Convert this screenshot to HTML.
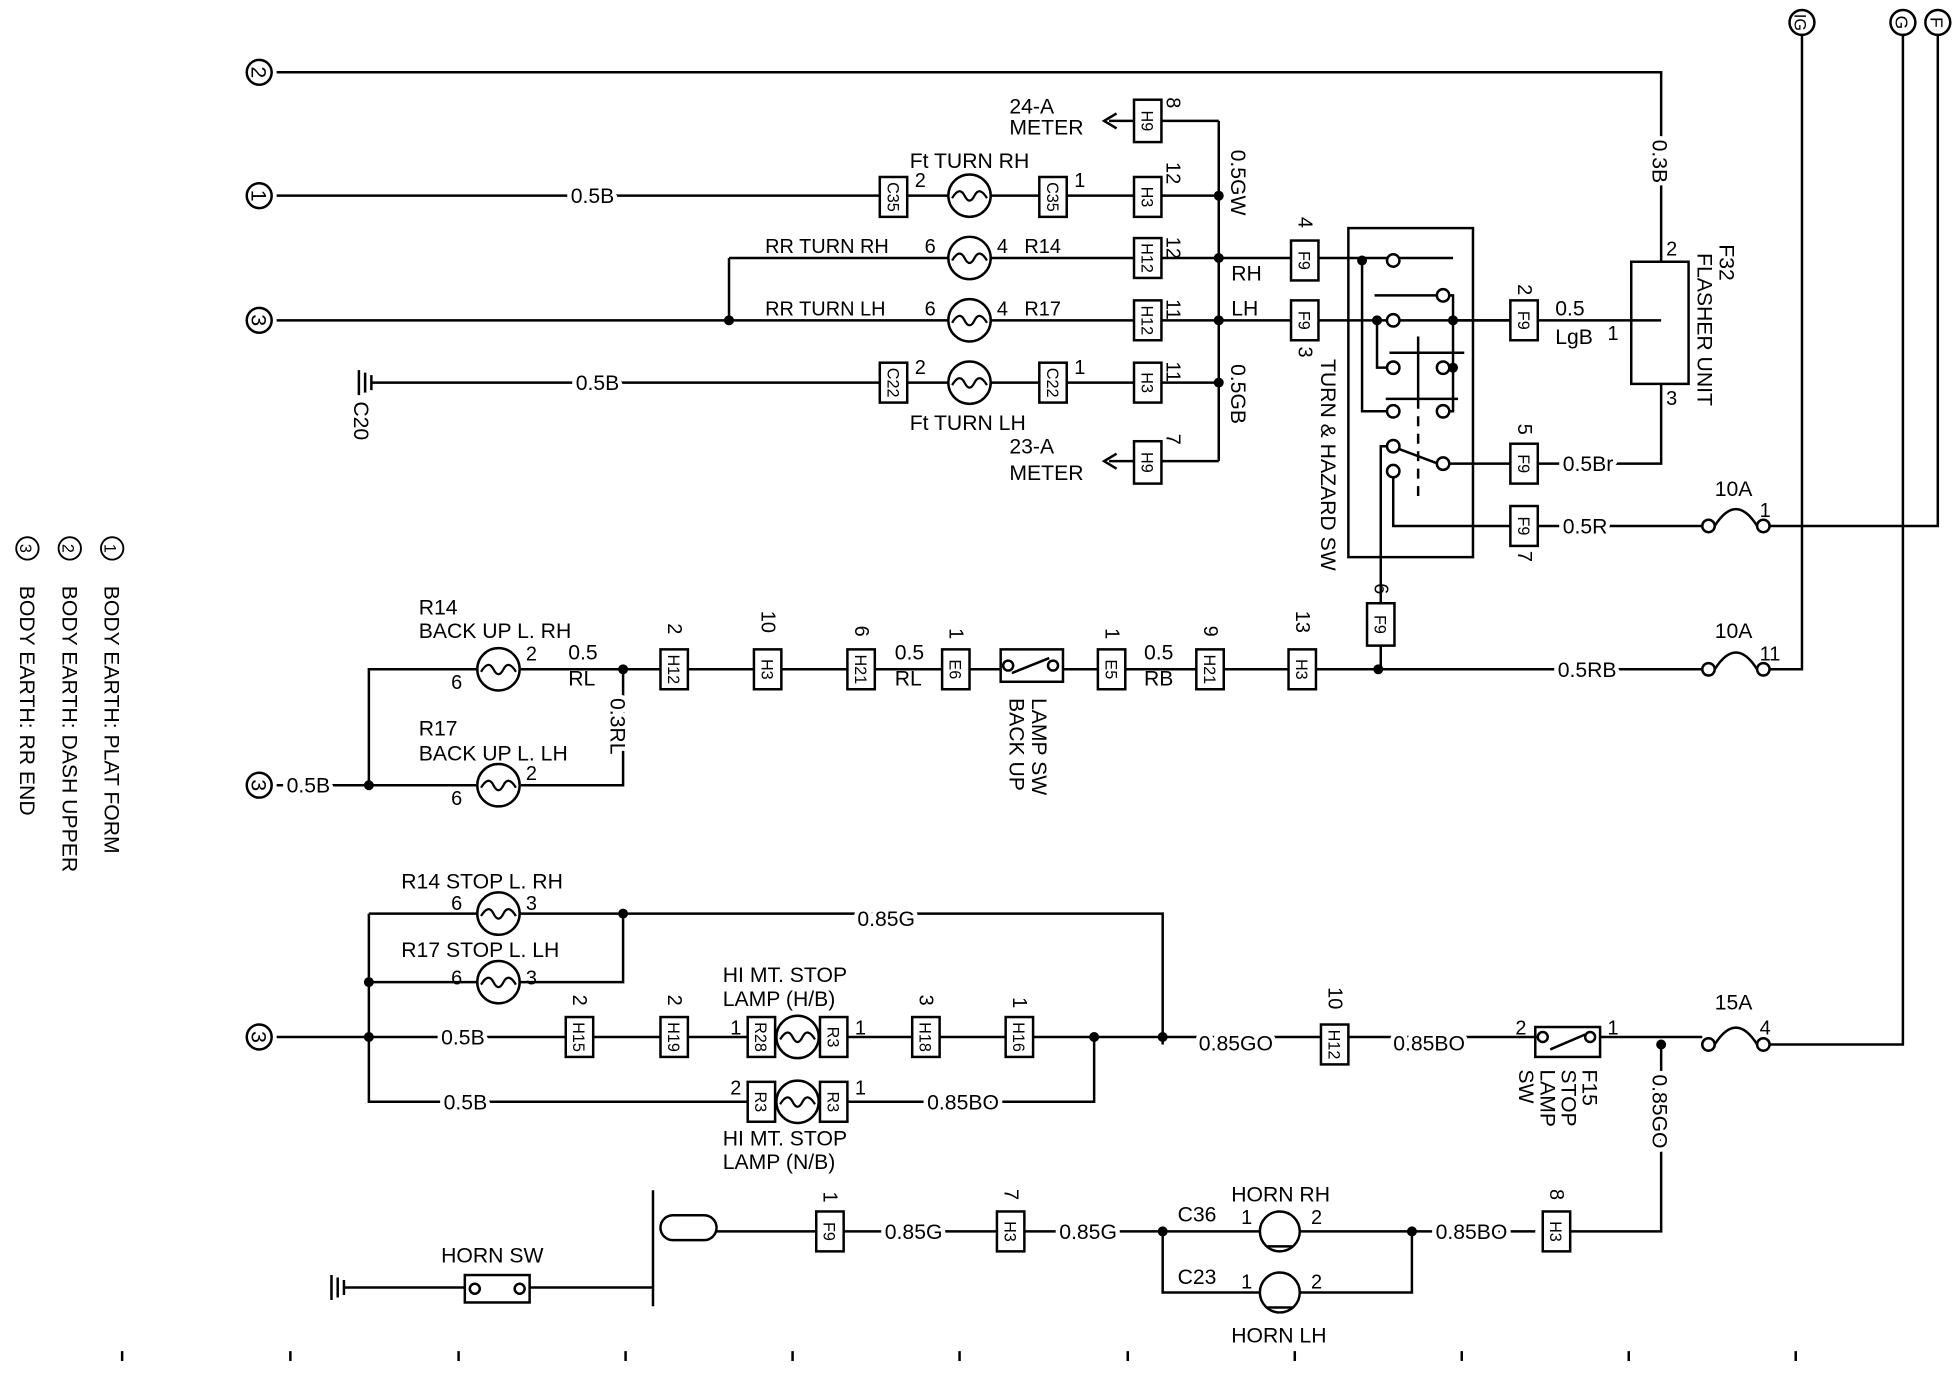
<!DOCTYPE html>
<html><head><meta charset="utf-8"><style>
html,body{margin:0;padding:0;background:#fff;}
svg{display:block}
text{font-family:"Liberation Sans",sans-serif;fill:#000;}
.w text{paint-order:stroke;stroke:#fff;stroke-width:7px;stroke-linejoin:round;}
</style></head><body>
<svg width="1954" height="1376" viewBox="0 0 1568 1104" preserveAspectRatio="none" xmlns="http://www.w3.org/2000/svg">
<defs>
<g id="lamp"><circle r="17" fill="#fff" stroke="#000" stroke-width="2"/><path d="M-14 2 Q-8 -8 -4 0 Q0 8 4 0 Q8 -8 14 2" fill="none" stroke="#000" stroke-width="1.8"/></g>
</defs>
<g stroke="#000" stroke-width="2" fill="none">
<path d="M222 58 H1333 V210"/>
<path d="M222 157 H978"/>
<path d="M978 97 V370"/>
<path d="M932 97 H978"/>
<path d="M910 97 H890"/><path d="M896 91 L886 97 L896 103"/>
<path d="M585 207 H1166"/>
<path d="M222 257 H1222"/>
<path d="M585 207 V257"/>
<path d="M298 307 H978"/>
<path d="M288 297 V317 M293 299 V315 M298 301 V313"/>
<path d="M932 370 H978"/><path d="M910 370 H890"/><path d="M896 364 L886 370 L896 376"/>
<rect x="1082" y="183" width="100" height="264"/>
<path d="M1093 209 V330 H1113"/>
<path d="M1105 257 V295 H1113"/>
<path d="M1103 237 H1153 M1163 237 H1166 V330 H1163"/>
<path d="M1166 257 H1333"/>
<path d="M1115 283 H1175 M1138 270 V320 M1112 320 H1170"/>
<path d="M1138 320 V400" stroke-dasharray="8,6"/>
<path d="M1122 360 L1154 372 M1163 372 H1333 V308"/>
<path d="M1113 358 H1108 V537"/>
<path d="M1118 383 V422 H1366"/>
<rect x="1309" y="210" width="46" height="98"/>
<path d="M1376 422 Q1393 395 1410 422"/>
<path d="M1420 422 H1555 V25"/>
<path d="M1446 25 V537 H1420"/>
<path d="M1527 25 V838 H1420"/>
<path d="M500 537 H1366"/>
<path d="M1376 537 Q1393 510 1410 537"/>
<path d="M500 537 V630 H418 M382 630 H222"/>
<path d="M296 630 V537 H382 M418 537 H500"/>
<rect x="803" y="521" width="50" height="26" fill="#fff"/>
<path d="M812 540 L842 528"/>
<path d="M296 733 V884 H600"/>
<path d="M296 733 H385 M417 733 H500 V788 H417 M385 788 H296"/>
<path d="M500 733 H933 V838"/>
<path d="M222 832 H600"/>
<path d="M660 832 H878 V884 H660"/>
<path d="M878 832 H1240 M1270 832 H1366"/>
<path d="M1376 838 Q1393 811 1410 838"/>
<rect x="1232" y="824" width="52" height="24" fill="#fff"/>
<path d="M1244 842 L1272 830"/>
<path d="M1333 838 V988 H1255"/>
<path d="M1232 988 H1133 V1037 H1043 M1011 1037 H933 V988 H1011 M1043 988 H1133"/>
<path d="M933 988 H575"/>
<rect x="530" y="975" width="45" height="20" rx="10"/>
<path d="M524 955 V1048"/>
<path d="M276 1033 H524"/>
<path d="M266 1023 V1043 M271 1025 V1041 M276 1027 V1039"/>
<rect x="373" y="1023" width="52" height="22" fill="#fff"/>
<path d="M98 1084 V1092 M233 1084 V1092 M368 1084 V1092 M502 1084 V1092 M636 1084 V1092 M770 1084 V1092 M905 1084 V1092 M1039 1084 V1092 M1173 1084 V1092 M1307 1084 V1092 M1441 1084 V1092"/>
</g>
<g fill="#000">
<circle cx="978" cy="157" r="4"/><circle cx="978" cy="207" r="4"/><circle cx="978" cy="257" r="4"/><circle cx="978" cy="307" r="4"/>
<circle cx="585" cy="257" r="4"/><circle cx="1093" cy="209" r="4"/><circle cx="1105" cy="257" r="4"/><circle cx="1166" cy="257" r="4"/><circle cx="1166" cy="295" r="4"/>
<circle cx="500" cy="537" r="4"/><circle cx="1106" cy="537" r="4"/><circle cx="296" cy="630" r="4"/>
<circle cx="500" cy="733" r="4"/><circle cx="296" cy="788" r="4"/><circle cx="296" cy="832" r="4"/><circle cx="878" cy="832" r="4"/><circle cx="933" cy="832" r="4"/><circle cx="1333" cy="838" r="4"/>
<circle cx="933" cy="988" r="4"/><circle cx="1133" cy="988" r="4"/>
</g>
<g fill="#fff" stroke="#000" stroke-width="2">
<circle cx="1118" cy="209" r="5"/><circle cx="1158" cy="237" r="5"/><circle cx="1118" cy="257" r="5"/><circle cx="1118" cy="295" r="5"/><circle cx="1158" cy="295" r="5"/><circle cx="1118" cy="330" r="5"/><circle cx="1158" cy="330" r="5"/><circle cx="1118" cy="358" r="5"/><circle cx="1158" cy="372" r="5"/><circle cx="1118" cy="378" r="5"/>
<circle cx="1371" cy="422" r="5"/><circle cx="1415" cy="422" r="5"/><circle cx="1371" cy="537" r="5"/><circle cx="1415" cy="537" r="5"/><circle cx="1371" cy="838" r="5"/><circle cx="1415" cy="838" r="5"/>
<circle cx="1238" cy="832" r="4"/><circle cx="1276" cy="832" r="4"/><circle cx="809" cy="534" r="4"/><circle cx="845" cy="534" r="4"/>
<circle cx="381" cy="1034" r="4"/><circle cx="417" cy="1034" r="4"/>
<circle cx="208" cy="58" r="10"/><circle cx="208" cy="157" r="10"/><circle cx="208" cy="257" r="10"/><circle cx="208" cy="630" r="10"/><circle cx="208" cy="832" r="10"/>
<circle cx="1446" cy="18" r="10"/><circle cx="1527" cy="18" r="10"/><circle cx="1555" cy="18" r="10"/>
<circle cx="1027" cy="988" r="16"/><circle cx="1027" cy="1037" r="16"/>
<path d="M1016 1000 H1038 M1016 1049 H1038" />
</g>
<g>
<use href="#lamp" x="778" y="157"/><use href="#lamp" x="778" y="207"/><use href="#lamp" x="778" y="257"/><use href="#lamp" x="778" y="307"/>
<use href="#lamp" x="400" y="537"/><use href="#lamp" x="400" y="630"/><use href="#lamp" x="400" y="733"/><use href="#lamp" x="400" y="788"/>
<use href="#lamp" x="640" y="832"/><use href="#lamp" x="640" y="884"/>
</g>
<g stroke="#000" stroke-width="2" fill="#fff">
<rect x="706" y="142" width="22" height="32"/><rect x="834" y="142" width="22" height="32"/><rect x="910" y="142" width="22" height="32"/>
<rect x="910" y="80" width="22" height="34"/><rect x="910" y="191" width="22" height="32"/><rect x="910" y="241" width="22" height="32"/>
<rect x="706" y="291" width="22" height="32"/><rect x="834" y="291" width="22" height="32"/><rect x="910" y="291" width="22" height="32"/><rect x="910" y="354" width="22" height="34"/>
<rect x="1036" y="193" width="22" height="32"/><rect x="1036" y="241" width="22" height="32"/>
<rect x="1212" y="241" width="22" height="32"/><rect x="1212" y="356" width="22" height="32"/><rect x="1212" y="406" width="22" height="32"/>
<rect x="1097" y="484" width="22" height="34"/>
<rect x="530" y="521" width="22" height="32"/><rect x="605" y="521" width="22" height="32"/><rect x="680" y="521" width="22" height="32"/><rect x="756" y="521" width="22" height="32"/>
<rect x="881" y="521" width="22" height="32"/><rect x="960" y="521" width="22" height="32"/><rect x="1034" y="521" width="22" height="32"/>
<rect x="454" y="816" width="22" height="32"/><rect x="530" y="816" width="22" height="32"/><rect x="600" y="816" width="22" height="32"/><rect x="658" y="816" width="22" height="32"/><rect x="732" y="816" width="22" height="32"/><rect x="807" y="816" width="22" height="32"/>
<rect x="600" y="868" width="22" height="32"/><rect x="658" y="868" width="22" height="32"/><rect x="1060" y="822" width="22" height="32"/>
<rect x="655" y="972" width="22" height="32"/><rect x="800" y="972" width="22" height="32"/><rect x="1238" y="972" width="22" height="32"/>
</g>
<g font-size="13" text-anchor="middle">
<text transform="translate(712,158) rotate(90)">C35</text><text transform="translate(840,158) rotate(90)">C35</text><text transform="translate(916,158) rotate(90)">H3</text>
<text transform="translate(916,97) rotate(90)">H9</text><text transform="translate(916,207) rotate(90)">H12</text><text transform="translate(916,257) rotate(90)">H12</text>
<text transform="translate(712,307) rotate(90)">C22</text><text transform="translate(840,307) rotate(90)">C22</text><text transform="translate(916,307) rotate(90)">H3</text><text transform="translate(916,371) rotate(90)">H9</text>
<text transform="translate(1042,209) rotate(90)">F9</text><text transform="translate(1042,257) rotate(90)">F9</text>
<text transform="translate(1218,257) rotate(90)">F9</text><text transform="translate(1218,372) rotate(90)">F9</text><text transform="translate(1218,422) rotate(90)">F9</text>
<text transform="translate(1103,501) rotate(90)">F9</text>
<text transform="translate(536,537) rotate(90)">H12</text><text transform="translate(611,537) rotate(90)">H3</text><text transform="translate(686,537) rotate(90)">H21</text><text transform="translate(762,537) rotate(90)">E6</text>
<text transform="translate(887,537) rotate(90)">E5</text><text transform="translate(966,537) rotate(90)">H21</text><text transform="translate(1040,537) rotate(90)">H3</text>
<text transform="translate(460,832) rotate(90)">H15</text><text transform="translate(536,832) rotate(90)">H19</text><text transform="translate(606,832) rotate(90)">R28</text><text transform="translate(664,832) rotate(90)">R3</text><text transform="translate(738,832) rotate(90)">H18</text><text transform="translate(813,832) rotate(90)">H16</text>
<text transform="translate(606,884) rotate(90)">R3</text><text transform="translate(664,884) rotate(90)">R3</text><text transform="translate(1066,838) rotate(90)">H12</text>
<text transform="translate(661,988) rotate(90)">F9</text><text transform="translate(806,988) rotate(90)">H3</text><text transform="translate(1244,988) rotate(90)">H3</text>
</g>
<g font-size="17">
<text transform="translate(202,58) rotate(90)" text-anchor="middle">2</text>
<text transform="translate(202,157) rotate(90)" text-anchor="middle">1</text>
<text transform="translate(202,257) rotate(90)" text-anchor="middle">3</text>
<text transform="translate(202,630) rotate(90)" text-anchor="middle">3</text>
<text transform="translate(202,832) rotate(90)" text-anchor="middle">3</text>
<text transform="translate(1440,18) rotate(90)" text-anchor="middle" font-size="13">IG</text>
<text transform="translate(1521,18) rotate(90)" text-anchor="middle" font-size="14">G</text>
<text transform="translate(1549,18) rotate(90)" text-anchor="middle" font-size="14">F</text>
<text x="810" y="91">24-A</text><text x="810" y="108">METER</text>
<text x="810" y="364">23-A</text><text x="810" y="385">METER</text>
<text x="730" y="135">Ft TURN RH</text><text x="730" y="345">Ft TURN LH</text>
<text x="988" y="225">RH</text><text x="988" y="253">LH</text>
<text x="1248" y="253">0.5</text><text x="1248" y="276">LgB</text>
<text transform="translate(1380,196) rotate(90)">F32</text>
<text transform="translate(1362,203) rotate(90)">FLASHER UNIT</text>
<text transform="translate(1060,288) rotate(90)">TURN &amp; HAZARD SW</text>
<text transform="translate(284,322) rotate(90)">C20</text>
<text x="336" y="493">R14</text><text x="336" y="512">BACK UP L. RH</text>
<text x="336" y="590">R17</text><text x="336" y="610">BACK UP L. LH</text>
<text x="456" y="529">0.5</text><text x="456" y="550">RL</text>
<text x="718" y="529">0.5</text><text x="718" y="550">RL</text>
<text x="918" y="529">0.5</text><text x="918" y="550">RB</text>
<text transform="translate(810,560) rotate(90)">BACK UP</text>
<text transform="translate(828,560) rotate(90)">LAMP SW</text>
<text x="322" y="713">R14 STOP L. RH</text><text x="322" y="768">R17 STOP L. LH</text>
<text x="580" y="788">HI MT. STOP</text><text x="580" y="807">LAMP (H/B)</text>
<text x="580" y="919">HI MT. STOP</text><text x="580" y="938">LAMP (N/B)</text>
<text transform="translate(1270,858) rotate(90)">F15</text>
<text transform="translate(1253,858) rotate(90)">STOP</text>
<text transform="translate(1236,858) rotate(90)">LAMP</text>
<text transform="translate(1219,858) rotate(90)">SW</text>
<text x="1376" y="398">10A</text><text x="1376" y="512">10A</text><text x="1376" y="810">15A</text>
<text x="988" y="964">HORN RH</text><text x="988" y="1077">HORN LH</text>
<text x="945" y="980">C36</text><text x="945" y="1030">C23</text>
<text x="354" y="1013">HORN SW</text>
<text transform="translate(84,470) rotate(90)">BODY EARTH: PLAT FORM</text>
<text transform="translate(50,470) rotate(90)">BODY EARTH: DASH UPPER</text>
<text transform="translate(16,470) rotate(90)">BODY EARTH: RR END</text>
<circle cx="90" cy="440" r="9" fill="none" stroke="#000" stroke-width="1.5"/><text transform="translate(84,440) rotate(90)" text-anchor="middle" font-size="13">1</text>
<circle cx="56" cy="440" r="9" fill="none" stroke="#000" stroke-width="1.5"/><text transform="translate(50,440) rotate(90)" text-anchor="middle" font-size="13">2</text>
<circle cx="22" cy="440" r="9" fill="none" stroke="#000" stroke-width="1.5"/><text transform="translate(16,440) rotate(90)" text-anchor="middle" font-size="13">3</text>
</g>
<!-- wire labels with halo -->
<g font-size="17" class="w">
<text x="458" y="163">0.5B</text><text x="462" y="313">0.5B</text>
<text x="1254" y="378">0.5Br</text><text x="1254" y="428">0.5R</text><text x="1250" y="543">0.5RB</text>
<text transform="translate(988,120) rotate(90)">0.5GW</text>
<text transform="translate(988,292) rotate(90)">0.5GB</text>
<text transform="translate(1326,112) rotate(90)">0.3B</text>
<text transform="translate(490,560) rotate(90)">0.3RL</text>
<text x="230" y="636">0.5B</text>
<text x="688" y="743">0.85G</text>
<text x="354" y="838">0.5B</text><text x="356" y="890">0.5B</text><text x="744" y="890">0.85BO</text>
<text x="962" y="843">0.85GO</text><text x="1118" y="843">0.85BO</text>
<text transform="translate(1326,862) rotate(90)">0.85GO</text>
<text x="710" y="994">0.85G</text><text x="850" y="994">0.85G</text><text x="1152" y="994">0.85BO</text>
</g>
<g font-size="16">
<text x="734" y="150">2</text><text x="862" y="150">1</text><text transform="translate(936,130) rotate(90)">12</text>
<text transform="translate(936,78) rotate(90)">8</text><text transform="translate(936,190) rotate(90)">12</text><text transform="translate(936,240) rotate(90)">11</text>
<text x="734" y="300">2</text><text x="862" y="300">1</text><text transform="translate(936,290) rotate(90)">11</text><text transform="translate(936,348) rotate(90)">7</text>
<text transform="translate(1042,174) rotate(90)">4</text><text transform="translate(1042,278) rotate(90)">3</text>
<text transform="translate(1218,228) rotate(90)">2</text><text transform="translate(1218,340) rotate(90)">5</text><text transform="translate(1218,442) rotate(90)">7</text>
<text transform="translate(1103,468) rotate(90)">6</text>
<text x="742" y="203">6</text><text x="800" y="203">4</text><text x="742" y="253">6</text><text x="800" y="253">4</text>
<text x="822" y="203">R14</text><text x="822" y="253">R17</text>
<text x="614" y="203">RR TURN RH</text><text x="614" y="253">RR TURN LH</text>
<text x="1290" y="273">1</text><text x="1337" y="205">2</text><text x="1337" y="325">3</text>
<text x="1412" y="415">1</text><text x="1412" y="530">11</text><text x="1412" y="830">4</text>
<text transform="translate(536,500) rotate(90)">2</text><text transform="translate(611,490) rotate(90)">10</text><text transform="translate(686,502) rotate(90)">6</text><text transform="translate(762,504) rotate(90)">1</text>
<text transform="translate(887,504) rotate(90)">1</text><text transform="translate(966,502) rotate(90)">9</text><text transform="translate(1040,490) rotate(90)">13</text>
<text x="362" y="553">6</text><text x="422" y="530">2</text><text x="362" y="646">6</text><text x="422" y="626">2</text>
<text x="362" y="730">6</text><text x="422" y="730">3</text><text x="362" y="790">6</text><text x="422" y="790">3</text>
<text transform="translate(460,798) rotate(90)">2</text><text transform="translate(536,798) rotate(90)">2</text><text x="586" y="830">1</text><text x="686" y="830">1</text>
<text transform="translate(738,798) rotate(90)">3</text><text transform="translate(813,800) rotate(90)">1</text>
<text x="586" y="878">2</text><text x="686" y="878">1</text><text transform="translate(1066,792) rotate(90)">10</text>
<text x="1216" y="830">2</text><text x="1290" y="830">1</text>
<text transform="translate(661,956) rotate(90)">1</text><text transform="translate(806,954) rotate(90)">7</text><text transform="translate(1244,954) rotate(90)">8</text>
<text x="996" y="982">1</text><text x="1052" y="982">2</text><text x="996" y="1034">1</text><text x="1052" y="1034">2</text>
</g>
</svg>
</body></html>
